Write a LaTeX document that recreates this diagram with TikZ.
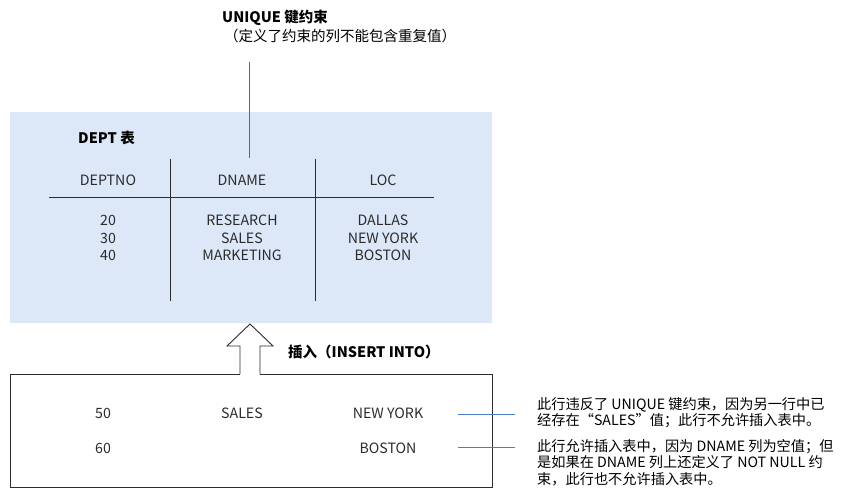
\documentclass[tikz,border=0pt]{standalone}
\usepackage{fontspec}
\setmainfont{Noto Sans CJK SC}
\definecolor{tblfill}{HTML}{DCE8F8}
\definecolor{topblue}{HTML}{2F6FD0}
\definecolor{noteblue}{HTML}{4A7FC8}
\definecolor{ink}{HTML}{2B2B2B}
\begin{document}
\begin{tikzpicture}[x=1pt,y=-1pt,
  txt/.style={inner sep=0pt, text=ink, font=\fontsize{14.2}{16}\selectfont},
  bold/.style={inner sep=0pt, text=black, font=\fontsize{14.5}{16}\selectfont\bfseries},
  note/.style={inner sep=0pt, text=black, align=left, anchor=north west, font=\fontsize{14.2}{16.5}\selectfont},
  rule/.style={draw=ink, line width=0.9pt},
  blueline/.style={draw=topblue, line width=1pt},
  nline/.style={draw=noteblue, line width=1pt}]
\useasboundingbox (0,0) rectangle (843,490);
% table background
\fill[tblfill] (10,112) rectangle (492,323);
% title
\node[bold, anchor=west] (title) at (222,18) {UNIQUE 键约束};
\node[txt, anchor=west, text=black, font=\fontsize{14.5}{16}\selectfont] (title2) at (224,36) {（定义了约束的列不能包含重复值）};
\coordinate (tline) at (249,62);
\coordinate (bline) at (249,158);
\draw[blueline] (tline) -- (bline);
% dept label
\node[bold, anchor=west] (dept) at (78,138) {DEPT 表};
% table grid
\draw[rule] (170,159) -- (170,301);
\draw[rule] (315,159) -- (315,301);
\draw[rule] (49,197) -- (434,197);
% headers
\node[txt] (h1) at (108,180) {DEPTNO};
\node[txt] (h2) at (242,180) {DNAME};
\node[txt] (h3) at (383,180) {LOC};
% data
\node[txt] (d11) at (108,220) {20};
\node[txt] (d21) at (108,238) {30};
\node[txt] (d31) at (108,255) {40};
\node[txt] (d12) at (242,220) {RESEARCH};
\node[txt] (d22) at (242,238) {SALES};
\node[txt] (d32) at (242,255) {MARKETING};
\node[txt] (d13) at (383,220) {DALLAS};
\node[txt] (d23) at (383,238) {NEW YORK};
\node[txt] (d33) at (383,255) {BOSTON};
% insert arrow and box
\draw[rule, line join=miter] (240,374) -- (240,346) -- (227,346) -- (250,324) -- (273,346) -- (260,346) -- (260,374);
\draw[rule] (240,374) -- (10,374) -- (10,487) -- (492,487) -- (492,374) -- (260,374);
\node[bold, anchor=west] (ins) at (288,352) {插入（INSERT INTO）};
% new rows
\node[txt] (r11) at (103,413) {50};
\node[txt] (r12) at (242,413) {SALES};
\node[txt] (r13) at (388,413) {NEW YORK};
\node[txt] (r21) at (103,448) {60};
\node[txt] (r23) at (388,448) {BOSTON};
% notes
\node[note] (n1) at (537,397) {此行违反了 UNIQUE 键约束，因为另一行中已\\经存在“SALES”值；此行不允许插入表中。};
\node[note] (n2) at (537,439) {此行允许插入表中，因为 DNAME 列为空值；但\\是如果在 DNAME 列上还定义了 NOT NULL 约\\束，此行也不允许插入表中。};
\coordinate (a1) at (458,414);
\coordinate (b1) at (515,414);
\coordinate (a2) at (458,447);
\coordinate (b2) at (515,447);
\draw[nline] (a1) -- (b1);
\draw[nline] (a2) -- (b2);
\end{tikzpicture}
\end{document}
